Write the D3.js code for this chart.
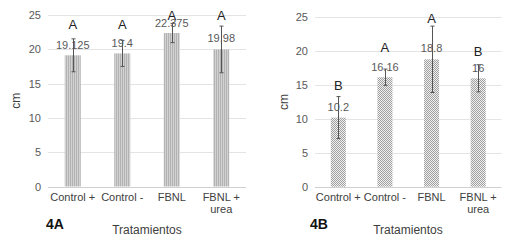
<!DOCTYPE html>
<html>
<head>
<meta charset="utf-8">
<script src="https://cdn.jsdelivr.net/npm/d3@7"></script>
<style>
  body { margin: 0; background: #fff; }
  svg { font-family: "Liberation Sans", Arial, sans-serif; }
</style>
</head>
<body>
<div id="chart"></div>
<script>
// Treatments and values
const categories = ['Control +', 'Control -', 'FBNL', 'FBNL + urea'];
const yTicks = [0, 5, 10, 15, 20, 25];

const valuesA = [19.125, 19.4, 22.375, 19.98];
const errorsA = [2.4, 1.9, 1.4, 3.4];
const lettersA = ['A', 'A', 'A', 'A'];
const valueLabelsA = ['19.125', '19.4', '22.375', '19.98'];

const valuesB = [10.2, 16.16, 18.8, 16];
const errorsB = [3.1, 1.2, 4.9, 2.0];
const lettersB = ['B', 'A', 'A', 'B'];
const valueLabelsB = ['10.2', '16.16', '18.8', '16'];

const svg = d3.select('#chart').append('svg')
    .attr('width', 514)
    .attr('height', 248);

// Bar patterns
const defs = svg.append('defs');
const stripes = defs.append('pattern')
    .attr('id', 'stripes')
    .attr('patternUnits', 'userSpaceOnUse')
    .attr('width', 2).attr('height', 2);
stripes.append('rect').attr('width', 2).attr('height', 2).attr('fill', '#d2d2d2');
stripes.append('rect').attr('width', 1).attr('height', 2).attr('fill', '#b2b2b2');

const checks = defs.append('pattern')
    .attr('id', 'checks')
    .attr('patternUnits', 'userSpaceOnUse')
    .attr('width', 2).attr('height', 2);
checks.append('rect').attr('width', 2).attr('height', 2).attr('fill', '#f0f0f0');
checks.append('rect').attr('width', 1).attr('height', 1).attr('fill', '#a0a0a0');
checks.append('rect').attr('x', 1).attr('y', 1).attr('width', 1).attr('height', 1).attr('fill', '#a0a0a0');

function drawPanel(cfg) {
    const g = svg.append('g');

    const x = d3.scaleBand()
        .domain(categories)
        .range([cfg.left, cfg.right])
        .paddingInner(0)
        .paddingOuter(0);

    const y = d3.scaleLinear()
        .domain([0, 25])
        .range([cfg.bottom, cfg.top]);

    // Gridlines
    g.selectAll('.grid')
        .data(yTicks)
        .enter().append('line')
        .attr('x1', cfg.left).attr('x2', cfg.right)
        .attr('y1', d => Math.round(y(d)) + 0.5)
        .attr('y2', d => Math.round(y(d)) + 0.5)
        .attr('stroke', d => d === 0 ? '#d0d0d0' : '#e4e4e4')
        .attr('stroke-width', 1);

    // Y axis labels
    const yAxis = d3.axisLeft(y).tickValues(yTicks).tickSize(0).tickPadding(0);
    const ya = g.append('g')
        .attr('transform', `translate(${cfg.left - 7},0)`)
        .call(yAxis);
    ya.select('.domain').remove();
    ya.selectAll('text')
        .style('font-size', '11px')
        .attr('fill', '#595959');

    const barW = cfg.barWidth;

    // Bars
    g.selectAll('.bar')
        .data(categories)
        .enter().append('rect')
        .attr('x', d => x(d) + x.bandwidth() / 2 - barW / 2)
        .attr('y', (d, i) => y(cfg.values[i]))
        .attr('width', barW)
        .attr('height', (d, i) => y(0) - y(cfg.values[i]))
        .attr('fill', `url(#${cfg.pattern})`);

    // Error bars
    const eb = g.selectAll('.err')
        .data(categories)
        .enter().append('g')
        .attr('transform', d => `translate(${Math.round(x(d) + x.bandwidth() / 2) + 0.5},0)`);
    eb.append('line')
        .attr('y1', (d, i) => y(cfg.values[i] - cfg.errors[i]))
        .attr('y2', (d, i) => y(cfg.values[i] + cfg.errors[i]))
        .attr('stroke', '#555');
    [1, -1].forEach(s => {
        eb.append('line')
            .attr('x1', -2).attr('x2', 2)
            .attr('y1', (d, i) => y(cfg.values[i] + s * cfg.errors[i]))
            .attr('y2', (d, i) => y(cfg.values[i] + s * cfg.errors[i]))
            .attr('stroke', '#555');
    });

    // Value labels
    g.selectAll('.val')
        .data(categories)
        .enter().append('text')
        .attr('x', d => x(d) + x.bandwidth() / 2)
        .attr('y', (d, i) => cfg.valueY[i])
        .attr('text-anchor', 'middle')
        .attr('dy', '0.35em')
        .style('font-size', '11px')
        .attr('fill', '#595959')
        .text((d, i) => cfg.valueLabels[i]);

    // Significance letters
    g.selectAll('.letter')
        .data(categories)
        .enter().append('text')
        .attr('x', d => x(d) + x.bandwidth() / 2)
        .attr('y', (d, i) => cfg.letterY[i])
        .attr('text-anchor', 'middle')
        .attr('dy', '0.35em')
        .style('font-size', '13px')
        .attr('fill', '#222')
        .text((d, i) => cfg.letters[i]);

    // Category labels
    const xl = g.selectAll('.cat')
        .data(categories)
        .enter().append('text')
        .attr('x', d => x(d) + x.bandwidth() / 2)
        .attr('y', cfg.bottom + 14)
        .attr('text-anchor', 'middle')
        .style('font-size', '11px')
        .attr('fill', '#404040');
    xl.each(function(d) {
        const t = d3.select(this);
        if (d === 'FBNL + urea') {
            t.append('tspan').attr('x', t.attr('x')).text('FBNL +');
            t.append('tspan').attr('x', t.attr('x')).attr('dy', '12.5').text('urea');
        } else {
            t.text(d);
        }
    });

    // Axis titles
    g.append('text')
        .attr('transform', `translate(${cfg.cmX},${(cfg.top + cfg.bottom) / 2}) rotate(-90)`)
        .attr('text-anchor', 'middle')
        .style('font-size', '12px')
        .attr('fill', '#404040')
        .text('cm');

    g.append('text')
        .attr('x', cfg.titleX)
        .attr('y', 234)
        .attr('text-anchor', 'middle')
        .style('font-size', '12px')
        .attr('fill', '#404040')
        .text('Tratamientos');

    g.append('text')
        .attr('x', cfg.panelX)
        .attr('y', 229)
        .style('font-size', '14px')
        .style('font-weight', 'bold')
        .attr('fill', '#111')
        .text(cfg.panel);
}

drawPanel({
    left: 48, right: 246, top: 15, bottom: 186.5,
    barWidth: 16, pattern: 'stripes',
    values: valuesA, errors: errorsA, letters: lettersA, valueLabels: valueLabelsA,
    valueY: [45, 43, 23, 38], letterY: [24, 24, 15, 15],
    cmX: 20, titleX: 147, panelX: 46, panel: '4A'
});

drawPanel({
    left: 315, right: 501.5, top: 17.3, bottom: 186.7,
    barWidth: 15, pattern: 'checks',
    values: valuesB, errors: errorsB, letters: lettersB, valueLabels: valueLabelsB,
    valueY: [107, 67, 48, 68], letterY: [85, 47, 18, 51],
    cmX: 288, titleX: 408, panelX: 310, panel: '4B'
});
</script>
</body>
</html>
